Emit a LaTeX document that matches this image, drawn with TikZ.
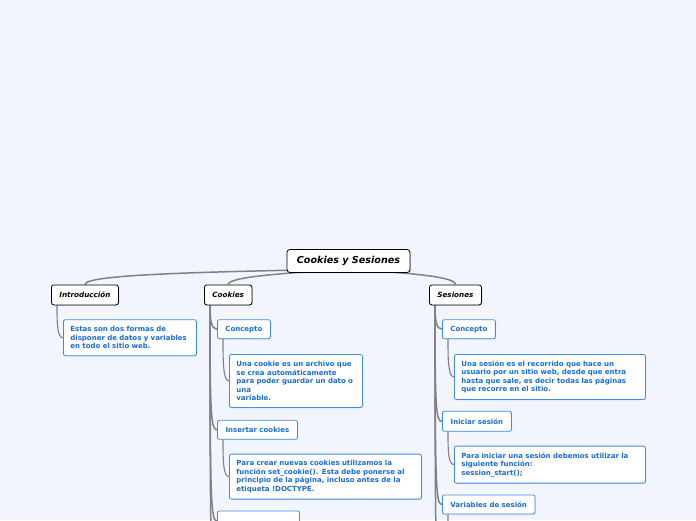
\documentclass[tikz,border=0pt]{standalone}
\usepackage{fontspec}
\setmainfont{DejaVu Sans}
\usepackage{xcolor}
\usepackage{tikz}
\usetikzlibrary{positioning,backgrounds,shadows}
\definecolor{pagebg}{RGB}{242,245,254}
\definecolor{notetext}{RGB}{24,108,214}
\definecolor{noteedge}{RGB}{62,140,226}
\definecolor{branchgray}{RGB}{128,128,136}
\tikzset{
  rootbox/.style={draw=black, fill=white, rounded corners=3pt, line width=0.8pt, minimum width=123pt, minimum height=23pt, font=\fontsize{9.6}{11}\selectfont\bfseries\itshape, drop shadow={shadow xshift=0.8pt, shadow yshift=-0.8pt, opacity=0.3}},
  topicbox/.style={draw=black, fill=white, rounded corners=2.5pt, line width=0.8pt, minimum height=20pt, inner xsep=8pt, font=\fontsize{7.2}{8}\selectfont\bfseries\itshape, drop shadow={shadow xshift=0.8pt, shadow yshift=-0.8pt, opacity=0.3}},
  subbox/.style={draw=noteedge, fill=white, rounded corners=2pt, line width=0.8pt, minimum height=19pt, inner xsep=8pt, text=notetext, font=\fontsize{7}{8.5}\selectfont\bfseries, drop shadow={shadow xshift=0.8pt, shadow yshift=-0.8pt, opacity=0.2, fill=noteedge}},
  notebox/.style={subbox, align=left, inner xsep=7pt, inner ysep=3pt},
  branchline/.style={draw=branchgray, line width=1.5pt},
  twigline/.style={draw=branchgray, line width=1.1pt},
}

\begin{document}
\begin{tikzpicture}[x=1pt, y=-1pt]
  \useasboundingbox (0,0) rectangle (696,520);

  \node[rootbox] (root) at (348.5,261) {Cookies y Sesiones};
  \node[topicbox, anchor=north west] (intro) at (51,284.5) {Introducción};
  \node[topicbox, anchor=north west] (cookies) at (204,284.5) {Cookies};
  \node[topicbox, anchor=north west] (sesiones) at (429,284.5) {Sesiones};

  \node[notebox, text width=119pt, minimum height=36pt, below right=14pt and 12pt of intro.south west] (introtext) {Estas son dos formas de\\disponer de datos y variables\\en todo el sitio web.};

  \node[subbox, minimum width=53pt, below right=14pt and 13pt of cookies.south west] (ckconcept) {Concepto};
  \node[notebox, text width=119pt, minimum height=53pt, below right=15pt and 12pt of ckconcept.south west] (cktext) {Una cookie es un archivo que\\se crea automáticamente\\para poder guardar un dato o\\una\\variable.};
  \node[subbox, minimum width=80pt, below right=12pt and -12pt of cktext.south west] (ckinsert) {Insertar cookies};
  \node[notebox, text width=178pt, minimum height=45pt, below right=14pt and 12pt of ckinsert.south west] (ckinserttext) {Para crear nuevas cookies utilizamos la\\función set\_cookie(). Esta debe ponerse al\\principio de la página, incluso antes de la\\etiqueta !DOCTYPE.};
  \node[subbox, minimum width=82pt, minimum height=20pt, below right=11pt and -12pt of ckinserttext.south west] (ckthird) {};
  \coordinate (ckmore) at (217,600);

  \node[subbox, minimum width=52pt, below right=14pt and 13pt of sesiones.south west] (ssconcept) {Concepto};
  \node[notebox, text width=177pt, minimum height=45pt, below right=15pt and 12pt of ssconcept.south west] (sstext) {Una sesión es el recorrido que hace un\\usuario por un sitio web, desde que entra\\hasta que sale, es decir todas las páginas\\que recorre en el sitio.};
  \node[subbox, minimum width=69pt, minimum height=20pt, below right=11pt and -12pt of sstext.south west] (ssstart) {Iniciar sesión};
  \node[notebox, text width=177pt, minimum height=37pt, below right=14pt and 12pt of ssstart.south west] (ssstarttext) {Para iniciar una sesión debemos utilizar la\\siguiente función:\\session\_start();};
  \node[subbox, minimum width=92pt, below right=11pt and -12pt of ssstarttext.south west] (ssvars) {Variables de sesión};
  \coordinate (ssmore) at (442,600);
  \coordinate (ssvarsmore) at (454,550);

  \begin{scope}[on background layer]
    \fill[pagebg] (0,0) rectangle (696,520);
    \draw[branchline] ([yshift=-8pt]root.center) .. controls +(-150,3) and +(0,-10) .. (intro.north);
    \draw[branchline] ([yshift=-8pt]root.center) .. controls +(-60,4) and +(0,-8) .. (cookies.north);
    \draw[branchline] ([yshift=-8pt]root.center) .. controls +(60,4) and +(0,-8) .. (sesiones.north);

    \draw[twigline] ([xshift=6pt]intro.south west) .. controls +(0,17) and +(-6,0) .. (introtext.west);

    \draw[branchline] ([xshift=6pt]cookies.south west) .. controls +(0,14) and +(-6,0) .. (ckconcept.west);
    \draw[branchline] ([xshift=6pt]cookies.south west) .. controls +(0,110) and +(-6,0) .. (ckinsert.west);
    \draw[branchline] ([xshift=6pt]cookies.south west) .. controls +(0,200) and +(-6,0) .. (ckthird.west);
    \draw[branchline] ([xshift=6pt]cookies.south west) .. controls +(0,250) and +(-6,0) .. (ckmore);
    \draw[twigline] ([xshift=6pt]ckconcept.south west) .. controls +(0,21) and +(-6,0) .. (cktext.west);
    \draw[twigline] ([xshift=6pt]ckinsert.south west) .. controls +(0,19) and +(-6,0) .. (ckinserttext.west);

    \draw[branchline] ([xshift=6pt]sesiones.south west) .. controls +(0,14) and +(-6,0) .. (ssconcept.west);
    \draw[branchline] ([xshift=6pt]sesiones.south west) .. controls +(0,105) and +(-6,0) .. (ssstart.west);
    \draw[branchline] ([xshift=6pt]sesiones.south west) .. controls +(0,185) and +(-6,0) .. (ssvars.west);
    \draw[branchline] ([xshift=6pt]sesiones.south west) .. controls +(0,250) and +(-6,0) .. (ssmore);
    \draw[twigline] ([xshift=6pt]ssconcept.south west) .. controls +(0,19) and +(-6,0) .. (sstext.west);
    \draw[twigline] ([xshift=6pt]ssstart.south west) .. controls +(0,17) and +(-6,0) .. (ssstarttext.west);
    \draw[twigline] ([xshift=6pt]ssvars.south west) .. controls +(0,15) and +(-6,0) .. (ssvarsmore);
  \end{scope}
\end{tikzpicture}
\end{document}
